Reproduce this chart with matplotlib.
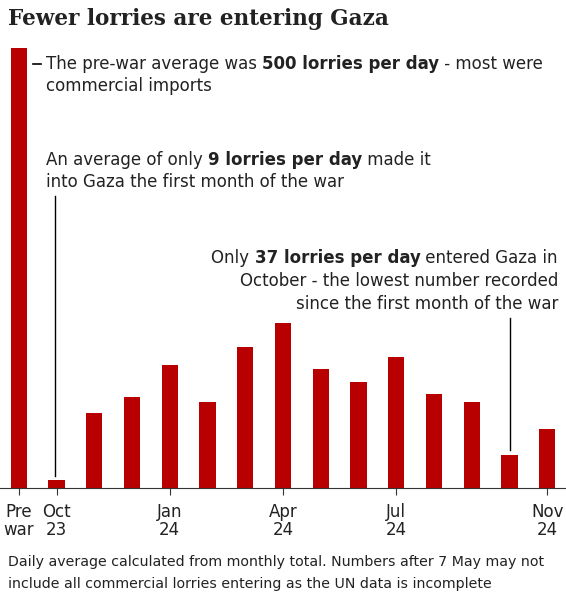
import matplotlib
matplotlib.use("Agg")
import matplotlib.pyplot as plt

labels = ["Pre\nwar", "Oct\n23", "", "", "Jan\n24", "", "", "Apr\n24", "", "", "Jul\n24", "", "", "", "Nov\n24"]
values = [500, 9, 85, 103, 140, 98, 160, 187, 135, 120, 149, 107, 98, 37, 67]

RED = "#b80000"
INK = "#222222"
W, H = 566, 600

fig = plt.figure(figsize=(W / 100, H / 100), dpi=100)
ax = fig.add_axes([0.0, 1 - 488 / H, 1.0, 440 / H])
x = range(len(values))
ax.bar(x, values, width=0.43, color=RED, zorder=2)
ax.set_xlim(-0.5, 14.5)
ax.set_ylim(0, 500)
for s in ["top", "right", "left"]:
    ax.spines[s].set_visible(False)
ax.spines["bottom"].set_color("#333333")
ax.set_yticks([])
ticks = [i for i, l in enumerate(labels) if l]
ax.set_xticks(ticks)
ax.set_xticklabels([labels[i] for i in ticks], fontsize=12, color=INK, linespacing=1.0)
ax.tick_params(axis="x", length=5, color="#333333", pad=6)

fig.text(8 / W, 1 - 19 / H, "Fewer lorries are entering Gaza", fontsize=15.5,
         fontweight="bold", family="DejaVu Serif", color=INK, va="center")

fig.canvas.draw()
renderer = fig.canvas.get_renderer()


def rich_line(px, py, runs, align="left"):
    # draw runs of (text, weight) next to each other, position in pixels from top-left
    widths = []
    for txt, wt in runs:
        t = fig.text(0, 0, txt, fontsize=12, fontweight=wt)
        widths.append(t.get_window_extent(renderer).width)
        t.remove()
    total = sum(widths)
    start = px - total if align == "right" else px
    for (txt, wt), w in zip(runs, widths):
        fig.text(start / W, 1 - py / H, txt, fontsize=12, fontweight=wt,
                 color=INK, va="center")
        start += w


rich_line(46, 64, [("The pre-war average was ", "normal"), ("500 lorries per day", "bold"),
                   (" - most were", "normal")])
rich_line(46, 86, [("commercial imports", "normal")])
rich_line(46, 160, [("An average of only ", "normal"), ("9 lorries per day", "bold"),
                    (" made it", "normal")])
rich_line(46, 182, [("into Gaza the first month of the war", "normal")])
rich_line(558, 258, [("Only ", "normal"), ("37 lorries per day", "bold"),
                     (" entered Gaza in", "normal")], align="right")
rich_line(558, 281, [("October - the lowest number recorded", "normal")], align="right")
rich_line(558, 304, [("since the first month of the war", "normal")], align="right")

# leader lines
fig.add_artist(plt.Line2D([33 / W, 41 / W], [1 - 64 / H] * 2, color="black", lw=1.2))
fig.add_artist(plt.Line2D([55 / W] * 2, [1 - 196 / H, 1 - 476 / H], color="black", lw=1))
fig.add_artist(plt.Line2D([510 / W] * 2, [1 - 318 / H, 1 - 450 / H], color="black", lw=1))

fig.text(8 / W, 1 - 562 / H, "Daily average calculated from monthly total. Numbers after 7 May may not",
         fontsize=10.2, color=INK, va="center")
fig.text(8 / W, 1 - 584 / H, "include all commercial lorries entering as the UN data is incomplete",
         fontsize=10.2, color=INK, va="center")

fig.savefig("out.png", dpi=100)
